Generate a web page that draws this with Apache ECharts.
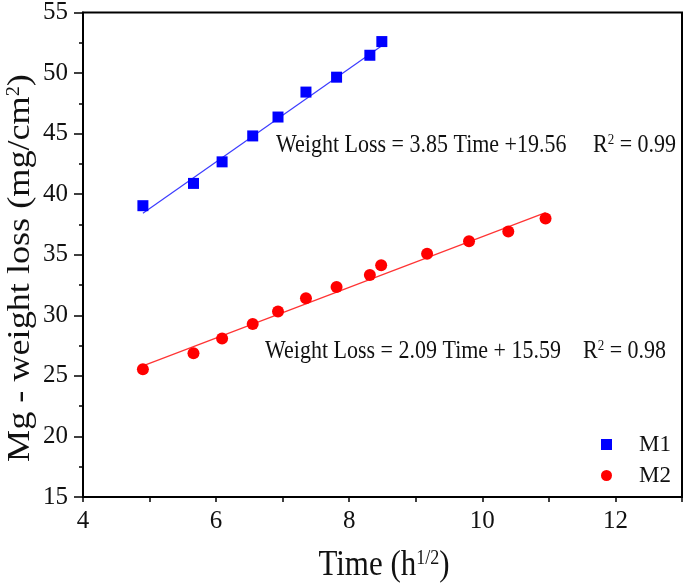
<!DOCTYPE html>
<html>
<head>
<meta charset="utf-8">
<script src="https://cdn.jsdelivr.net/npm/echarts@6/dist/echarts.min.js"></script>
<style>html,body{margin:0;padding:0;background:#fff;}#c{width:685px;height:585px;}</style>
</head>
<body>
<div id="c"></div>
<script>
// Data
const m1X = [4.90, 5.66, 6.09, 6.55, 6.93, 7.35, 7.81, 8.31, 8.49];
const m1Y = [39.05, 40.89, 42.67, 44.81, 46.37, 48.43, 49.66, 51.47, 52.60];
const m2X = [4.90, 5.66, 6.09, 6.55, 6.93, 7.35, 7.81, 8.31, 8.48, 9.17, 9.80, 10.39, 10.95];
const m2Y = [25.54, 26.86, 28.09, 29.29, 30.31, 31.41, 32.34, 33.32, 34.14, 35.08, 36.12, 36.92, 37.99];
// Fitted line end points
const m1FitX = [4.90, 8.49];
const m1FitY = [38.43, 52.25];
const m2FitX = [4.90, 10.95];
const m2FitY = [25.83, 38.48];
const seriesNames = ['M1', 'M2'];
const eq1 = 'Weight Loss = 3.85 Time +19.56';
const r1 = 'R{sup|2} = 0.99';
const eq2 = 'Weight Loss = 2.09 Time + 15.59';
const r2 = 'R{sup|2} = 0.98';
const xTitle = 'Time (h{sup|1/2})';
const yTitle = 'Mg - weight loss (mg/cm{sup|2})';

const zip = (a, b) => a.map((v, i) => [v, b[i]]);
const FONT = 'Liberation Serif';
const INK = '#111';
const supStyle = size => ({sup: {fontFamily: FONT, fontSize: size, verticalAlign: 'top', fill: INK}});
const chart = echarts.init(document.getElementById('c'), null, {renderer: 'canvas'});
chart.setOption({
  animation: false,
  backgroundColor: '#fff',
  grid: {left: 83, right: 1, top: 10, bottom: 88, show: true, borderColor: '#000', borderWidth: 2},
  xAxis: {
    type: 'value', min: 4, max: 13, interval: 1,
    axisLine: {show: true, onZero: false, lineStyle: {color: '#000', width: 2}},
    axisTick: {show: true, inside: false, length: 5, lineStyle: {color: '#000', width: 1.5}},
    splitLine: {show: false},
    axisLabel: {fontFamily: FONT, fontSize: 25, color: INK, margin: 12,
      formatter: v => (v % 2 === 0 ? String(v) : '')}
  },
  yAxis: {
    type: 'value', min: 15, max: 55, interval: 5,
    axisLine: {show: true, onZero: false, lineStyle: {color: '#000', width: 2}},
    axisTick: {show: true, inside: false, length: 9, lineStyle: {color: '#000', width: 1.5}},
    minorTick: {show: true, splitNumber: 2, length: 4, lineStyle: {color: '#000', width: 1.5}},
    splitLine: {show: false},
    axisLabel: {fontFamily: FONT, fontSize: 25, color: INK, margin: 15}
  },
  legend: {
    orient: 'vertical', left: 596, top: 428, itemWidth: 11, itemHeight: 11, itemGap: 8,
    data: [{name: seriesNames[0], icon: 'rect'}, {name: seriesNames[1], icon: 'circle'}],
    textStyle: {fontFamily: FONT, fontSize: 23, color: INK, lineHeight: 22, padding: [0, 0, 0, 22]}
  },
  series: [
    {name: 'fit1', type: 'line', data: zip(m1FitX, m1FitY), symbol: 'none', silent: true,
      lineStyle: {color: '#3c3cff', width: 1.2}, z: 1},
    {name: 'fit2', type: 'line', data: zip(m2FitX, m2FitY), symbol: 'none', silent: true,
      lineStyle: {color: '#ff3434', width: 1.2}, z: 1},
    {name: seriesNames[0], type: 'scatter', data: zip(m1X, m1Y), symbol: 'rect', symbolSize: 11,
      itemStyle: {color: '#0000ff', opacity: 1}, z: 3},
    {name: seriesNames[1], type: 'scatter', data: zip(m2X, m2Y), symbol: 'circle', symbolSize: 12,
      itemStyle: {color: '#ff0000', opacity: 1}, z: 3}
  ],
  graphic: [
    {type: 'text', x: 276, y: 145, scaleY: 1.13, style: {text: eq1, font: '22px "Liberation Serif"', fill: INK, verticalAlign: 'middle'}},
    {type: 'text', x: 593, y: 145, scaleY: 1.13, style: {text: r1, font: '22px "Liberation Serif"', fill: INK, verticalAlign: 'middle', rich: supStyle(13)}},
    {type: 'text', x: 265, y: 351, scaleY: 1.13, style: {text: eq2, font: '22px "Liberation Serif"', fill: INK, verticalAlign: 'middle'}},
    {type: 'text', x: 583, y: 351, scaleY: 1.13, style: {text: r2, font: '22px "Liberation Serif"', fill: INK, verticalAlign: 'middle', rich: supStyle(13)}},
    {type: 'text', x: 384, y: 566, scaleY: 1.13, style: {text: xTitle, font: '31px "Liberation Serif"', fill: INK, align: 'center', verticalAlign: 'middle', rich: supStyle(18)}},
    {type: 'text', x: 21, y: 268, rotation: Math.PI / 2, scaleX: 1.13, style: {text: yTitle, font: '32px "Liberation Serif"', fill: INK, align: 'center', verticalAlign: 'middle', rich: supStyle(18)}}
  ]
});
</script>
</body>
</html>
